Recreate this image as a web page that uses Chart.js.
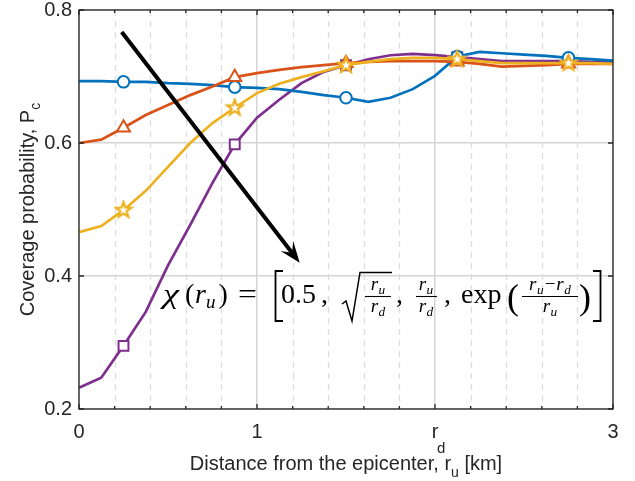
<!DOCTYPE html>
<html><head><meta charset="utf-8">
<script src="https://cdn.jsdelivr.net/npm/chart.js@4.4.1/dist/chart.umd.min.js"></script>
<style>html,body{margin:0;padding:0;background:#fff;}#wrap{width:635px;height:481px;}</style>
</head><body><div id="wrap"><canvas id="c" width="635" height="481"></canvas></div>
<script>
// ---- data ----
const distances = [0,0.125,0.25,0.375,0.5,0.625,0.75,0.875,1,1.125,1.25,1.375,1.5,1.625,1.75,1.875,2,2.125,2.25,2.375,2.5,2.625,2.75,2.875,3];
const chiHalf  = [0.693,0.693,0.692,0.692,0.690,0.689,0.687,0.684,0.683,0.681,0.677,0.672,0.668,0.662,0.668,0.681,0.701,0.730,0.737,0.735,0.733,0.731,0.728,0.726,0.724];
const chiSqrt  = [0.600,0.605,0.623,0.642,0.657,0.672,0.685,0.699,0.705,0.710,0.714,0.717,0.720,0.722,0.723,0.723,0.723,0.722,0.719,0.715,0.716,0.717,0.719,0.719,0.719];
const chiRatio = [0.466,0.475,0.499,0.528,0.564,0.600,0.630,0.653,0.675,0.689,0.699,0.708,0.717,0.722,0.726,0.728,0.728,0.726,0.723,0.720,0.720,0.720,0.720,0.720,0.719];
const chiExp   = [0.232,0.247,0.295,0.346,0.416,0.477,0.540,0.598,0.638,0.665,0.690,0.707,0.717,0.726,0.732,0.734,0.732,0.729,0.726,0.723,0.723,0.723,0.723,0.722,0.722];
const xMajorTicks = [0,1,2,3];
const xTickLabels = ['0','1','r','3'];   // 'r' gets subscript d (r_d)
const xMinorTicks = [0.2,0.4,0.6,0.8,1.2,1.4,1.6,1.8,2.2,2.4,2.6,2.8];
const yTicks = [0.2,0.4,0.6,0.8];
const arrowFrom = [0.24,0.767];
const arrowTo = [1.24,0.42];

const C = {blue:'#0072BD', orange:'#D95319', yellow:'#EDB120', purple:'#7E2F8E'};
const markerEvery = i => i % 5 === 2;

function starCanvas(){
  const c=document.createElement('canvas'); c.width=c.height=20;
  const g=c.getContext('2d'); g.beginPath();
  for(let k=0;k<10;k++){const r=k%2?3.3:8.2;const a=-Math.PI/2+k*Math.PI/5;g.lineTo(10+r*Math.cos(a),10+r*Math.sin(a));}
  g.closePath(); g.fillStyle='#fff'; g.fill(); g.strokeStyle=C.yellow; g.lineWidth=2.2; g.lineJoin='miter'; g.stroke();
  return c;
}
const star = starCanvas();

function series(label, vals, color, style, radius){
  return {label, data: distances.map((x,i)=>({x, y: vals[i]})), borderColor: color, backgroundColor:'#fff',
    borderWidth:2.7, pointBorderWidth:2, pointBorderColor:color, pointBackgroundColor:'#fff',
    pointStyle: style, pointRadius: ctx => markerEvery(ctx.dataIndex) ? radius : 0, tension:0};
}

const SANS = '"Liberation Sans", Arial, Helvetica, sans-serif';
const SERIF = '"Liberation Serif", "DejaVu Serif", serif';

function txt(ctx,s,x,y,size,italic,align){
  ctx.font=(italic?'italic ':'')+size+'px '+SERIF; ctx.textAlign=align||'left'; ctx.fillText(s,x,y);
  return ctx.measureText(s).width;
}
function mw(ctx,s,size,italic){ctx.font=(italic?'italic ':'')+size+'px '+SERIF;return ctx.measureText(s).width;}
function rsubW(ctx,sub,size){return mw(ctx,'r',size,true)+0.5+mw(ctx,sub,size*0.7,true);}
function rsub(ctx,x,y,sub,size){const w=txt(ctx,'r',x,y,size,true);txt(ctx,sub,x+w+0.5,y+size*0.22,size*0.7,true);return w+0.5+mw(ctx,sub,size*0.7,true);}

function drawFormula(ctx){
  ctx.save(); ctx.fillStyle='#000'; ctx.strokeStyle='#000'; ctx.textBaseline='alphabetic';
  const B=303, S=28, f=19;
  ctx.save(); ctx.translate(163,B); ctx.scale(1.3,1); txt(ctx,'χ',0,0,S,true); ctx.restore();
  txt(ctx,'(',185,B,S,false);
  const wr=txt(ctx,'r',195,B,S,true);
  const wu=txt(ctx,'u',195+wr,B+5,19,true);
  txt(ctx,')',195+wr+wu+3,B,S,false);
  ctx.save(); ctx.translate(238,B); ctx.scale(1.2,1); txt(ctx,'=',0,0,S,false); ctx.restore();
  // [
  ctx.lineWidth=1.8; ctx.beginPath(); ctx.moveTo(283,271); ctx.lineTo(275.5,271); ctx.lineTo(275.5,321); ctx.lineTo(283,321); ctx.stroke();
  txt(ctx,'0.5',281,B,S,false);
  txt(ctx,',',321,B,S,false);
  // sqrt
  ctx.lineWidth=1.5; ctx.beginPath(); ctx.moveTo(342,304); ctx.lineTo(346,301); ctx.lineTo(352,321); ctx.lineTo(360,272.5); ctx.lineTo(392,272.5); ctx.stroke();
  const frac=(cx,num,den,x0,x1)=>{
    ctx.lineWidth=1.1; ctx.beginPath(); ctx.moveTo(x0,296.5); ctx.lineTo(x1,296.5); ctx.stroke();
    num(cx,290); den(cx,312);
  };
  const rc=(sub)=>(cx,y)=>{const w=rsubW(ctx,sub,f); rsub(ctx,cx-w/2,y,sub,f);};
  frac(378,rc('u'),rc('d'),365,391);
  txt(ctx,',',396,B,S,false);
  frac(426,rc('u'),rc('d'),416,437);
  txt(ctx,',',444,B,S,false);
  txt(ctx,'exp',461,B,S,false);
  txt(ctx,'(',507,309,36,false);
  frac(550,(cx,y)=>{
    const w1=rsubW(ctx,'u',f), wm=mw(ctx,'−',f,false), w2=rsubW(ctx,'d',f);
    const tot=w1+wm+w2+2; let xx=cx-tot/2;
    xx+=rsub(ctx,xx,y,'u',f)+1; xx+=txt(ctx,'−',xx,y,f,false)+1; rsub(ctx,xx,y,'d',f);
  },rc('u'),522,578);
  txt(ctx,')',579,309,36,false);
  // ]
  ctx.lineWidth=1.8; ctx.beginPath(); ctx.moveTo(593,271); ctx.lineTo(600.5,271); ctx.lineTo(600.5,321); ctx.lineTo(593,321); ctx.stroke();
  ctx.restore();
}

const decor = {
  id:'decor',
  beforeDatasetsDraw(chart){
    const {ctx, chartArea:a, scales:{x}} = chart;
    ctx.save(); ctx.strokeStyle='#dedede'; ctx.lineWidth=1.3; ctx.setLineDash([6,5]);
    for(const v of xMinorTicks){const px=Math.round(x.getPixelForValue(v))+0.5; ctx.beginPath(); ctx.moveTo(px,a.top); ctx.lineTo(px,a.bottom); ctx.stroke();}
    ctx.restore();
  },
  afterDatasetsDraw(chart){
    const {ctx, chartArea:a, scales:{x,y}} = chart;
    ctx.save();
    ctx.strokeStyle='#262626'; ctx.lineWidth=1.3;
    ctx.strokeRect(a.left, a.top, a.right-a.left, a.bottom-a.top);
    ctx.beginPath();
    for(const v of xMajorTicks){const px=x.getPixelForValue(v); ctx.moveTo(px,a.bottom); ctx.lineTo(px,a.bottom-5); ctx.moveTo(px,a.top); ctx.lineTo(px,a.top+5);}
    for(const v of xMinorTicks){const px=x.getPixelForValue(v); ctx.moveTo(px,a.bottom); ctx.lineTo(px,a.bottom-3); ctx.moveTo(px,a.top); ctx.lineTo(px,a.top+3);}
    for(const v of yTicks){const py=y.getPixelForValue(v); ctx.moveTo(a.left,py); ctx.lineTo(a.left+5,py); ctx.moveTo(a.right,py); ctx.lineTo(a.right-5,py);}
    ctx.stroke();
    // arrow
    const x0=x.getPixelForValue(arrowFrom[0]), y0=y.getPixelForValue(arrowFrom[1]);
    const x1=x.getPixelForValue(arrowTo[0]), y1=y.getPixelForValue(arrowTo[1]);
    const L=Math.hypot(x1-x0,y1-y0), dx=(x1-x0)/L, dy=(y1-y0)/L, px=-dy, py=dx;
    const HL=21, HW=8;
    ctx.strokeStyle='#000'; ctx.fillStyle='#000'; ctx.lineWidth=4; ctx.lineCap='butt';
    ctx.beginPath(); ctx.moveTo(x0,y0); ctx.lineTo(x1-dx*HL*0.6,y1-dy*HL*0.6); ctx.stroke();
    ctx.beginPath(); ctx.moveTo(x1,y1);
    ctx.lineTo(x1-dx*HL+px*HW, y1-dy*HL+py*HW);
    ctx.lineTo(x1-dx*HL*0.6, y1-dy*HL*0.6);
    ctx.lineTo(x1-dx*HL-px*HW, y1-dy*HL-py*HW);
    ctx.closePath(); ctx.fill();
    drawFormula(ctx);
    // r_d subscript
    ctx.fillStyle='#262626'; ctx.textBaseline='alphabetic'; ctx.textAlign='left';
    ctx.font='15px '+SANS; ctx.fillText('d', x.getPixelForValue(2)+2, 453);
    // axis titles
    ctx.font='20px '+SANS;
    const t1='Distance from the epicenter, r', t2=' [km]';
    const w1=ctx.measureText(t1).width, w2=ctx.measureText(t2).width;
    ctx.font='14px '+SANS; const wu=ctx.measureText('u').width;
    let sx=(a.left+a.right)/2-(w1+w2+wu)/2;
    ctx.font='20px '+SANS; ctx.fillText(t1,sx,470);
    ctx.font='14px '+SANS; ctx.fillText('u',sx+w1,477);
    ctx.font='20px '+SANS; ctx.fillText(t2,sx+w1+wu,470);
    ctx.save(); ctx.translate(34,(a.top+a.bottom)/2); ctx.rotate(-Math.PI/2);
    const ty='Coverage probability, P';
    ctx.font='20px '+SANS; const wy=ctx.measureText(ty).width; ctx.font='14px '+SANS; const wc=ctx.measureText('c').width;
    const s2=-(wy+wc)/2;
    ctx.font='20px '+SANS; ctx.fillText(ty,s2,0);
    ctx.font='14px '+SANS; ctx.fillText('c',s2+wy,6);
    ctx.restore();
    ctx.restore();
  }
};

new Chart(document.getElementById('c'), {
  type:'line',
  data:{datasets:[
    series('χ = r_u/r_d', chiRatio, C.yellow, star, 8),
    series('χ = sqrt(r_u/r_d)', chiSqrt, C.orange, 'triangle', 7.5),
    series('χ = 0.5', chiHalf, C.blue, 'circle', 5.8),
    series('χ = exp((r_u-r_d)/r_u)', chiExp, C.purple, 'rect', 7)
  ]},
  options:{
    responsive:false, animation:false, devicePixelRatio:1,
    layout:{padding:{top:10,right:22,left:0,bottom:0}},
    plugins:{legend:{display:false}, tooltip:{enabled:false}},
    events:[],
    scales:{
      x:{type:'linear', min:0, max:3, afterBuildTicks:s=>{s.ticks=xMajorTicks.map(v=>({value:v}));},
        afterFit:s=>{s.height=72; s.paddingLeft=0; s.paddingRight=0; s.paddingTop=0; s.paddingBottom=0;},
        border:{display:false},
        grid:{color:'#d4d4d4', lineWidth:1.5, drawTicks:false},
        ticks:{padding:13, color:'#262626', font:{family:SANS, size:20, lineHeight:1}, maxRotation:0, autoSkip:false,
          callback:(v,i)=>xTickLabels[xMajorTicks.indexOf(v)]}},
      y:{type:'linear', min:0.2, max:0.8, afterBuildTicks:s=>{s.ticks=yTicks.map(v=>({value:v}));},
        afterFit:s=>{s.width=79; s.paddingTop=0; s.paddingBottom=0; s.paddingLeft=0; s.paddingRight=0;},
        border:{display:false},
        grid:{color:'#d4d4d4', lineWidth:1.5, drawTicks:false},
        ticks:{padding:7, color:'#262626', font:{family:SANS, size:20, lineHeight:1}, autoSkip:false,
          callback:v=>v.toFixed(1)}}
    }
  },
  plugins:[decor]
});
</script></body></html>
